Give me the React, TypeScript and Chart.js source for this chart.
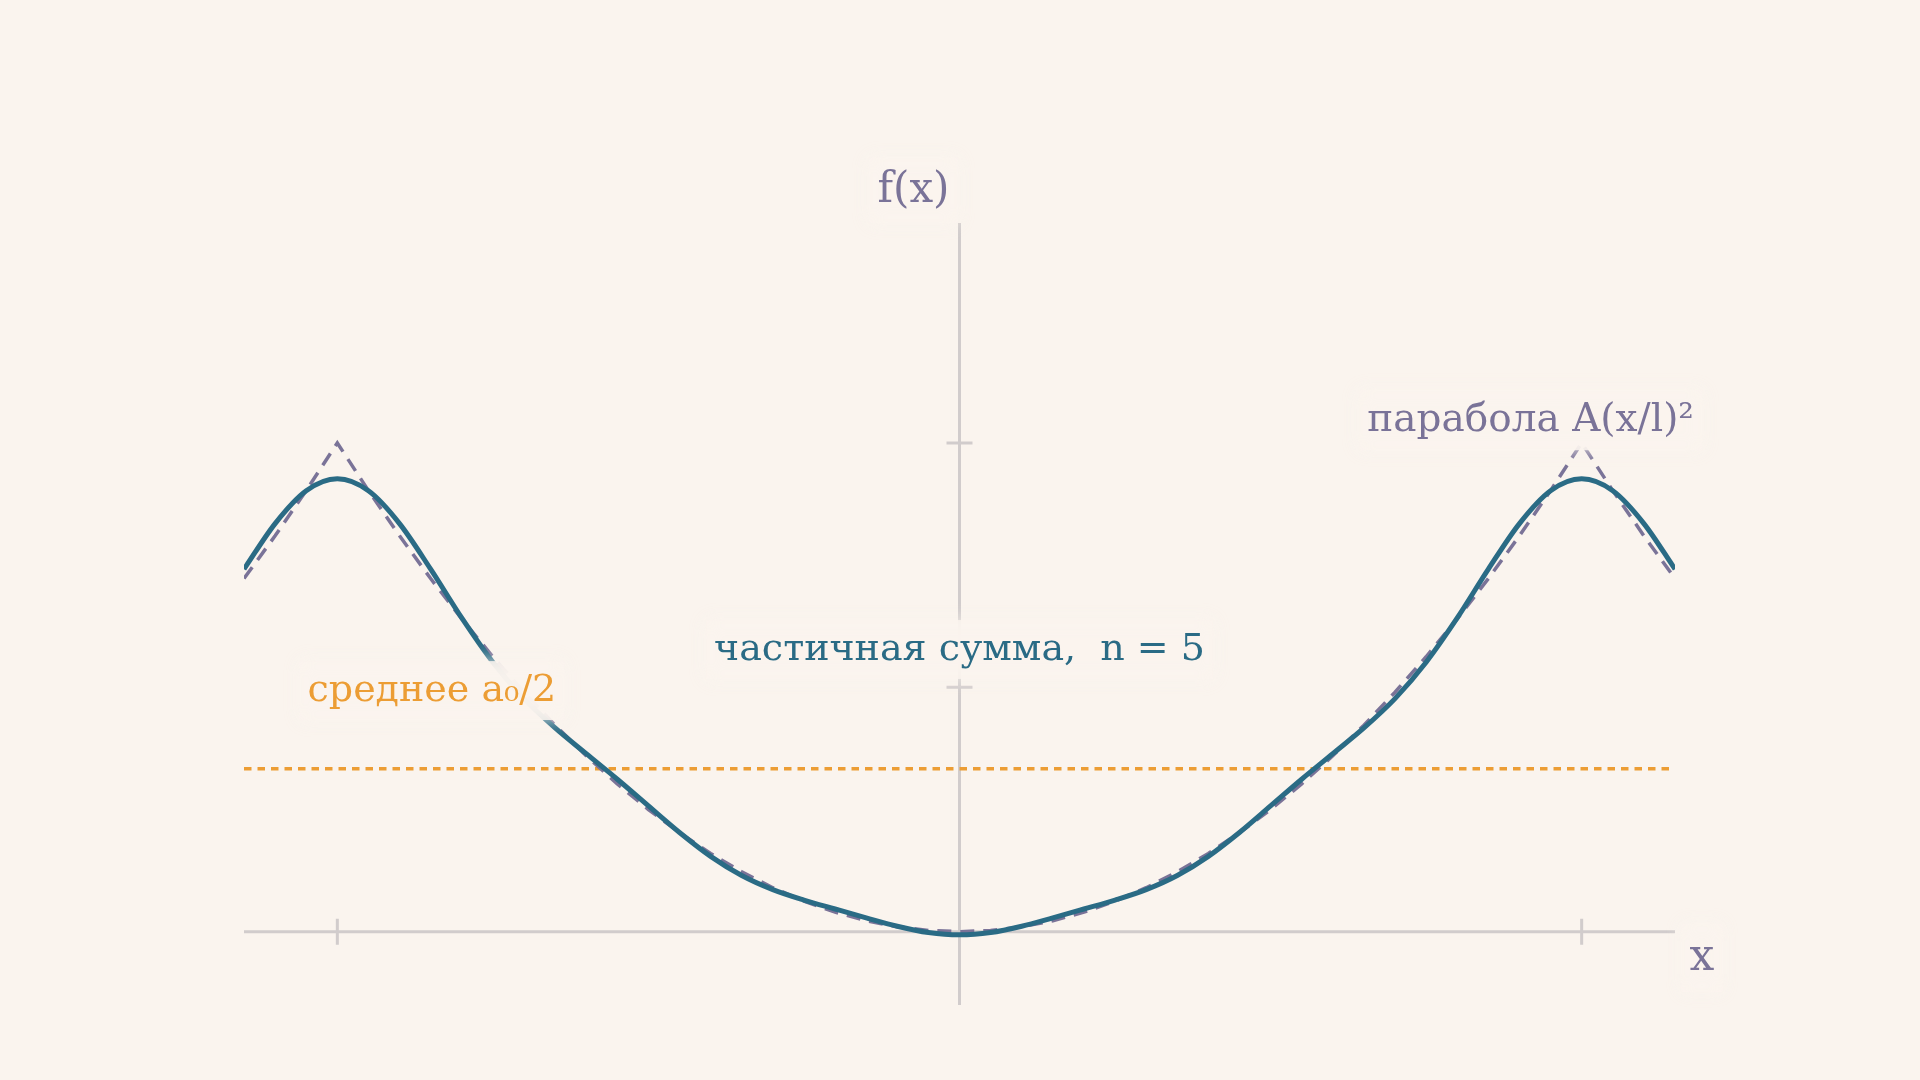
import React, { useEffect, useRef } from 'react';
import Chart from 'chart.js/auto';

// x positions (in units of l) and values
const xValues = [
  -1.15, -1.1, -1.05, -1.0, -0.95, -0.9, -0.85, -0.8, -0.75, -0.7, -0.65, -0.6,
  -0.55, -0.5, -0.45, -0.4, -0.35, -0.3, -0.25, -0.2, -0.15, -0.1, -0.05, 0,
  0.05, 0.1, 0.15, 0.2, 0.25, 0.3, 0.35, 0.4, 0.45, 0.5, 0.55, 0.6,
  0.65, 0.7, 0.75, 0.8, 0.85, 0.9, 0.95, 1.0, 1.05, 1.1, 1.15,
];
const parabolaValues = [
  0.7225, 0.81, 0.9025, 1.0, 0.9025, 0.81, 0.7225, 0.64, 0.5625, 0.49, 0.4225, 0.36,
  0.3025, 0.25, 0.2025, 0.16, 0.1225, 0.09, 0.0625, 0.04, 0.0225, 0.01, 0.0025, 0,
  0.0025, 0.01, 0.0225, 0.04, 0.0625, 0.09, 0.1225, 0.16, 0.2025, 0.25, 0.3025, 0.36,
  0.4225, 0.49, 0.5625, 0.64, 0.7225, 0.81, 0.9025, 1.0, 0.9025, 0.81, 0.7225,
];
const partialSumValues = [
  0.7418, 0.835, 0.9021, 0.9265, 0.9021, 0.835, 0.7418, 0.6419, 0.5513, 0.4769, 0.4169, 0.3642,
  0.3119, 0.2573, 0.203, 0.1542, 0.115, 0.0861, 0.0647, 0.0464, 0.0284, 0.0112, -0.0017, -0.0065,
  -0.0017, 0.0112, 0.0284, 0.0464, 0.0647, 0.0861, 0.115, 0.1542, 0.203, 0.2573, 0.3119, 0.3642,
  0.4169, 0.4769, 0.5513, 0.6419, 0.7418, 0.835, 0.9021, 0.9265, 0.9021, 0.835, 0.7418,
];
const meanValue = 0.3333;
const xTicks = [-1, 1];
const yTicks = [0.5, 1];

const BG = '#FAF4EE';
const BLUE = '#2A6B85';
const PURPLE = '#7A7398';
const ORANGE = '#EC9D34';
const AXIS = '#D1CCCC';
const FONT = '"DejaVu Serif", serif';

const axesPlugin = {
  id: 'axes',
  beforeDatasetsDraw(chart: any) {
    const { ctx, chartArea, scales } = chart;
    const x0 = scales.x.getPixelForValue(0);
    const y0 = scales.y.getPixelForValue(0);
    ctx.save();
    ctx.strokeStyle = AXIS;
    ctx.lineWidth = 3;
    ctx.beginPath();
    ctx.moveTo(chartArea.left, y0);
    ctx.lineTo(chartArea.right, y0);
    ctx.moveTo(x0, chartArea.top);
    ctx.lineTo(x0, chartArea.bottom);
    xTicks.forEach(t => {
      const px = scales.x.getPixelForValue(t);
      ctx.moveTo(px, y0 - 13);
      ctx.lineTo(px, y0 + 13);
    });
    yTicks.forEach(t => {
      const py = scales.y.getPixelForValue(t);
      ctx.moveTo(x0 - 13, py);
      ctx.lineTo(x0 + 13, py);
    });
    ctx.stroke();
    ctx.restore();
  },
};

function drawLabel(ctx: CanvasRenderingContext2D, text: string, cx: number, baseline: number, color: string, size: number) {
  ctx.save();
  ctx.font = `${size}px ${FONT}`;
  const w = ctx.measureText(text).width;
  ctx.fillStyle = 'rgba(250,244,238,0.88)';
  ctx.shadowColor = 'rgba(250,244,238,0.95)';
  ctx.shadowBlur = 16;
  ctx.fillRect(cx - w / 2 - 8, baseline - size * 1.05, w + 16, size * 1.55);
  ctx.restore();
  ctx.save();
  ctx.font = `${size}px ${FONT}`;
  ctx.fillStyle = color;
  ctx.textAlign = 'center';
  ctx.textBaseline = 'alphabetic';
  ctx.fillText(text, cx, baseline);
  ctx.restore();
}

const labelsPlugin = {
  id: 'labels',
  afterDatasetsDraw(chart: any) {
    const { ctx, chartArea, scales } = chart;
    const x0 = scales.x.getPixelForValue(0);
    const y0 = scales.y.getPixelForValue(0);
    drawLabel(ctx, 'f(x)', x0 - 46, chartArea.top - 21, PURPLE, 42);
    drawLabel(ctx, 'x', chartArea.right + 27, y0 + 38, PURPLE, 44);
    drawLabel(ctx, 'парабола A(x/l)²', scales.x.getPixelForValue(0.918), scales.y.getPixelForValue(1.025), PURPLE, 39);
    drawLabel(ctx, 'среднее a₀/2', scales.x.getPixelForValue(-0.848), scales.y.getPixelForValue(0.472), ORANGE, 38);
    drawLabel(ctx, 'частичная сумма,  n = 5', x0, scales.y.getPixelForValue(0.556), BLUE, 38);
  },
};

const App: React.FC = () => {
  const canvasRef = useRef<HTMLCanvasElement | null>(null);

  useEffect(() => {
    if (!canvasRef.current) return;
    const toPoints = (ys: number[]) => xValues.map((x, i) => ({ x, y: ys[i] }));
    const chart = new Chart(canvasRef.current, {
      type: 'line',
      data: {
        datasets: [
          {
            label: 'частичная сумма',
            data: toPoints(partialSumValues),
            borderColor: BLUE,
            borderWidth: 5,
            pointRadius: 0,
            cubicInterpolationMode: 'monotone',
            order: 1,
          },
          {
            label: 'парабола',
            data: toPoints(parabolaValues),
            borderColor: PURPLE,
            borderWidth: 3.5,
            borderDash: [14, 9],
            pointRadius: 0,
            tension: 0,
            order: 2,
          },
          {
            label: 'среднее',
            data: [
              { x: xValues[0], y: meanValue },
              { x: xValues[xValues.length - 1], y: meanValue },
            ],
            borderColor: ORANGE,
            borderWidth: 3.5,
            borderDash: [7.5, 6],
            pointRadius: 0,
            order: 3,
          },
        ],
      },
      options: {
        animation: false,
        responsive: true,
        maintainAspectRatio: false,
        layout: { padding: { left: 244, right: 245, top: 223, bottom: 75 } },
        scales: {
          x: { type: 'linear', min: -1.15, max: 1.15, display: false },
          y: { type: 'linear', min: -0.15, max: 1.45, display: false },
        },
        plugins: {
          legend: { display: false },
          tooltip: { enabled: false },
        },
      },
      plugins: [axesPlugin, labelsPlugin],
    } as any);
    return () => chart.destroy();
  }, []);

  return (
    <div style={{ position: 'fixed', left: 0, top: 0, width: 1920, height: 1080, background: BG }}>
      <canvas ref={canvasRef} />
    </div>
  );
};

export default App;
